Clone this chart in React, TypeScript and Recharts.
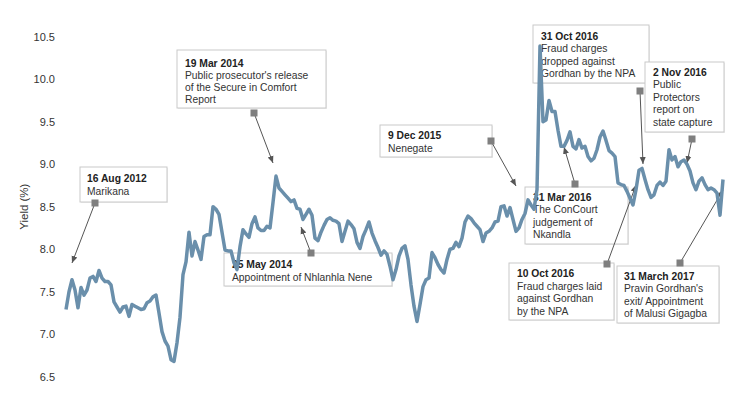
import React from 'react';
import { LineChart, Line, XAxis, YAxis, Label } from 'recharts';

// weekly bond yield (%), mid-2012 to Apr 2017
const yields = [
    7.29, 7.50, 7.64, 7.52, 7.31, 7.55, 7.46, 7.52, 7.66, 7.68,
    7.62, 7.75, 7.66, 7.62, 7.62, 7.58, 7.38, 7.32, 7.26, 7.32,
    7.33, 7.21, 7.35, 7.33, 7.31, 7.29, 7.30, 7.37, 7.39, 7.44,
    7.46, 7.25, 7.03, 6.92, 6.86, 6.70, 6.68, 6.90, 7.20, 7.70,
    7.85, 8.20, 7.92, 8.09, 7.99, 7.88, 8.15, 8.17, 8.17, 8.50,
    8.47, 8.41, 8.20, 7.99, 7.98, 7.98, 7.84, 7.76, 8.03, 8.23,
    8.18, 8.14, 8.30, 8.38, 8.25, 8.22, 8.22, 8.27, 8.25, 8.55,
    8.86, 8.72, 8.68, 8.64, 8.60, 8.56, 8.58, 8.48, 8.47, 8.35,
    8.41, 8.47, 8.40, 8.13, 8.10, 8.20, 8.28, 8.35, 8.37, 8.34,
    8.33, 8.30, 8.09, 8.21, 8.33, 8.29, 8.24, 8.08, 8.01, 8.15,
    8.23, 8.32, 8.19, 8.10, 8.02, 7.93, 7.98, 7.94, 7.80, 7.64,
    7.76, 7.92, 8.01, 8.04, 7.88, 7.58, 7.33, 7.15, 7.35, 7.56,
    7.64, 7.66, 7.96, 7.90, 7.82, 7.76, 7.72, 7.88, 8.00, 8.01,
    8.08, 8.03, 8.13, 8.32, 8.39, 8.36, 8.31, 8.27, 8.23, 8.09,
    8.19, 8.21, 8.25, 8.32, 8.33, 8.50, 8.51, 8.39, 8.49, 8.35,
    8.21, 8.25, 8.35, 8.42, 8.58, 8.52, 8.47, 8.70, 10.39, 9.50,
    9.52, 9.75, 9.62, 9.62, 9.40, 9.21, 9.21, 9.28, 9.38, 9.21,
    9.18, 9.29, 9.19, 9.21, 9.09, 9.04, 9.07, 9.17, 9.32, 9.39,
    9.28, 9.16, 9.13, 9.09, 8.78, 8.76, 8.75, 8.68, 8.60, 8.52,
    8.70, 8.93, 8.95, 8.82, 8.70, 8.61, 8.64, 8.75, 8.79, 8.75,
    8.80, 9.17, 9.05, 9.09, 8.97, 9.03, 9.05, 9.00, 8.92, 8.78,
    8.70, 8.80, 8.84, 8.76, 8.70, 8.72, 8.70, 8.66, 8.40, 8.82,
];

const yTicks = [6.5, 7, 7.5, 8, 8.5, 9, 9.5, 10, 10.5];

const noteDates = [
    '16 Aug 2012', '19 Mar 2014', '25 May 2014', '9 Dec 2015', '31 Oct 2016',
    '2 Nov 2016', '31 Mar 2016', '10 Oct 2016', '31 March 2017',
];
const noteTexts = [
    ['Marikana'],
    ["Public prosecutor's release", 'of the Secure in Comfort', 'Report'],
    ['Appointment of Nhlanhla Nene'],
    ['Nenegate'],
    ['Fraud charges', 'dropped against', 'Gordhan by the NPA'],
    ['Public', 'Protectors', 'report on', 'state capture'],
    ['The ConCourt', 'judgement of', 'Nkandla'],
    ['Fraud charges laid', 'against Gordhan', 'by the NPA'],
    ["Pravin Gordhan's", 'exit/ Appointment', 'of Malusi Gigagba'],
];

// annotation layout in page pixels: box, first text line, line gap, marker, arrow tip
const noteLayout = [
    { box: [80, 167, 87, 35], tx: 87, ty: 178, gap: 13.5, sq: [95, 203], tip: [72, 263] },
    { box: [177, 50, 149, 58], tx: 185, ty: 63, gap: 12.2, sq: [254, 113], tip: [273, 163] },
    { box: [224, 253, 168, 33], tx: 232, ty: 264, gap: 12.8, sq: [311, 253], tip: [301, 227] },
    { box: [380, 125, 112, 32], tx: 388, ty: 135, gap: 13.5, sq: [491, 141], tip: [516, 186] },
    { box: [533, 25, 116, 58], tx: 541, ty: 36, gap: 12.5, sq: [640, 91], tip: [643, 164] },
    { box: [645, 62, 79, 70], tx: 653, ty: 72, gap: 12.5, sq: [692, 139], tip: [687, 163] },
    { box: [525, 187, 103, 57], tx: 533, ty: 197, gap: 12.5, sq: [575, 184], tip: [564, 147] },
    { box: [509, 263, 105, 57], tx: 517, ty: 273.5, gap: 12.5, sq: [607, 264], tip: [636, 185] },
    { box: [617, 266, 102, 57], tx: 624, ty: 276, gap: 12.5, sq: [680, 263], tip: [723, 190] },
];

const FONT = '"Liberation Sans", Arial, sans-serif';

const Notes = () => (
    <svg width={736} height={394} style={{ position: 'absolute', left: -8, top: -8 }}>
        <defs>
            <marker id="ah" markerWidth="8" markerHeight="8" refX="7" refY="4" orient="auto">
                <path d="M0,1 L7,4 L0,7 z" fill="#555" />
            </marker>
        </defs>
        {noteLayout.map((n, i) => {
            const [bx, by, bw, bh] = n.box;
            return (
                <g key={i}>
                    <rect x={bx + 1} y={by + 1} width={bw} height={bh} fill="#ececec" />
                    <rect x={bx} y={by} width={bw} height={bh} fill="#fff" stroke="#c9c9c9" />
                    <text x={n.tx} y={n.ty + 3.8} fontSize={10.3} fontWeight="bold" fill="#222" fontFamily={FONT}>
                        {noteDates[i]}
                    </text>
                    {noteTexts[i].map((t, j) => (
                        <text key={j} x={n.tx} y={n.ty + n.gap * (j + 1) + 3.8} fontSize={10.3} fill="#333" fontFamily={FONT}>
                            {t}
                        </text>
                    ))}
                    <line x1={n.sq[0]} y1={n.sq[1]} x2={n.tip[0]} y2={n.tip[1]} stroke="#555" strokeWidth={1} markerEnd="url(#ah)" />
                    <rect x={n.sq[0] - 3.5} y={n.sq[1] - 3.5} width={7} height={7} fill="#7f7f7f" />
                </g>
            );
        })}
    </svg>
);

export default function App() {
    const data = yields.map((v, i) => ({ week: i, yield: v }));
    return (
        <div style={{ position: 'relative', width: 720, height: 380, fontFamily: FONT }}>
            <Notes />
            <div style={{ position: 'absolute', left: 0, top: 0 }}>
                <LineChart width={720} height={380} data={data} margin={{ top: 28.7, right: 5, bottom: 11.3, left: 0 }}>
                    <XAxis dataKey="week" type="number" domain={['dataMin', 'dataMax']} hide />
                    <YAxis
                        domain={[6.5, 10.5]}
                        ticks={yTicks}
                        width={58}
                        axisLine={false}
                        tickLine={false}
                        tickMargin={5}
                        tickFormatter={(v: number) => v.toFixed(1)}
                        tick={{ fill: '#333', fontSize: 11, fontFamily: FONT }}
                    >
                        <Label
                            value="Yield (%)"
                            angle={-90}
                            position="insideLeft"
                            offset={16}
                            style={{ textAnchor: 'middle', fill: '#333', fontSize: 11.5, fontFamily: FONT }}
                        />
                    </YAxis>
                    <Line
                        type="linear"
                        dataKey="yield"
                        stroke="#6a8fab"
                        strokeWidth={3.5}
                        strokeLinejoin="round"
                        dot={false}
                        isAnimationActive={false}
                    />
                </LineChart>
            </div>
        </div>
    );
}
